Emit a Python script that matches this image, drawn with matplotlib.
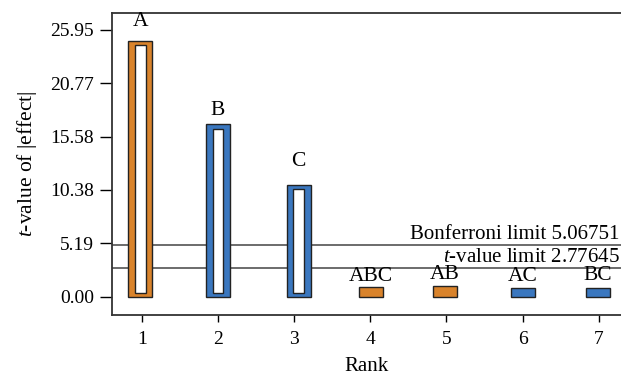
import matplotlib
matplotlib.use("Agg")
import matplotlib.pyplot as plt

# Pareto chart of standardized effects
terms = ["A", "B", "C", "ABC", "AB", "AC", "BC"]
rank_pos = [0.98, 2.0, 3.06, 4.01, 4.98, 6.0, 6.99]
t_values = [24.9, 16.77, 10.89, 0.95, 1.02, 0.80, 0.86]
positive = [True, False, False, True, True, False, False]
bonferroni_limit = 5.06751
t_limit = 2.77645
y_ticks = [0.00, 5.19, 10.38, 15.58, 20.77, 25.95]
x_ticks = [1, 2, 3, 4, 5, 6, 7]
label_offsets_pt = [7, 3, 10, 1, 1.5, 2, 2]

ORANGE = "#D9832B"
BLUE = "#3A77BF"
EDGE = "#222222"

plt.rcParams["font.family"] = ["Liberation Serif", "DejaVu Serif"]
plt.rcParams["mathtext.fontset"] = "custom"
plt.rcParams["mathtext.rm"] = "Liberation Serif"
plt.rcParams["mathtext.it"] = "Liberation Serif:italic"

fig = plt.figure(figsize=(6.21, 3.78), dpi=100)
ax = fig.add_axes([112 / 621, 62.7 / 378, 509 / 621, 302 / 378])

# limit lines
line_kw = dict(color="#444444", linewidth=1.1, zorder=1)
ax.axhline(bonferroni_limit, **line_kw)
ax.axhline(t_limit, **line_kw)
ax.annotate("Bonferroni limit 5.06751", (0.997, bonferroni_limit), xycoords=ax.get_yaxis_transform(),
            xytext=(0, 0.5), textcoords="offset points", ha="right", va="bottom", fontsize=15)
ax.annotate("$t$-value limit 2.77645", (0.997, t_limit), xycoords=ax.get_yaxis_transform(),
            xytext=(0, 0.5), textcoords="offset points", ha="right", va="bottom", fontsize=15)

bar_w = 0.315
inner_w = 0.14
inset_top = 0.42
inset_bottom = 0.33
for x, h, pos, name, off in zip(rank_pos, t_values, positive, terms, label_offsets_pt):
    col = ORANGE if pos else BLUE
    ax.bar(x, h, width=bar_w, color=col, edgecolor=EDGE, linewidth=1.0, zorder=2)
    inner_h = h - inset_top - inset_bottom
    if h > 2.0:
        ax.bar(x, inner_h, bottom=inset_bottom, width=inner_w, color="white",
               edgecolor=EDGE, linewidth=1.0, zorder=3)
    ax.annotate(name, (x, h), xytext=(0, off), textcoords="offset points",
                ha="center", va="bottom", fontsize=15.5)

ax.set_xlim(0.61, 7.293)
ax.set_ylim(-1.81, 27.57)
ax.set_yticks(y_ticks)
ax.set_yticklabels([f"{v:.2f}" for v in y_ticks])
ax.set_xticks(x_ticks)
ax.tick_params(axis="y", direction="out", length=9, width=1.0, pad=4, labelsize=14)
ax.tick_params(axis="x", direction="out", length=5, width=1.0, pad=6, labelsize=14)
for s in ("left", "bottom", "top"):
    ax.spines[s].set_linewidth(1.3)
    ax.spines[s].set_color("#333333")
ax.spines["right"].set_visible(False)

ax.set_xlabel("Rank", fontsize=15, labelpad=7)
ax.set_ylabel("$t$-value of |effect|", fontsize=15.5, labelpad=8)

fig.savefig("out.png", dpi=100)
